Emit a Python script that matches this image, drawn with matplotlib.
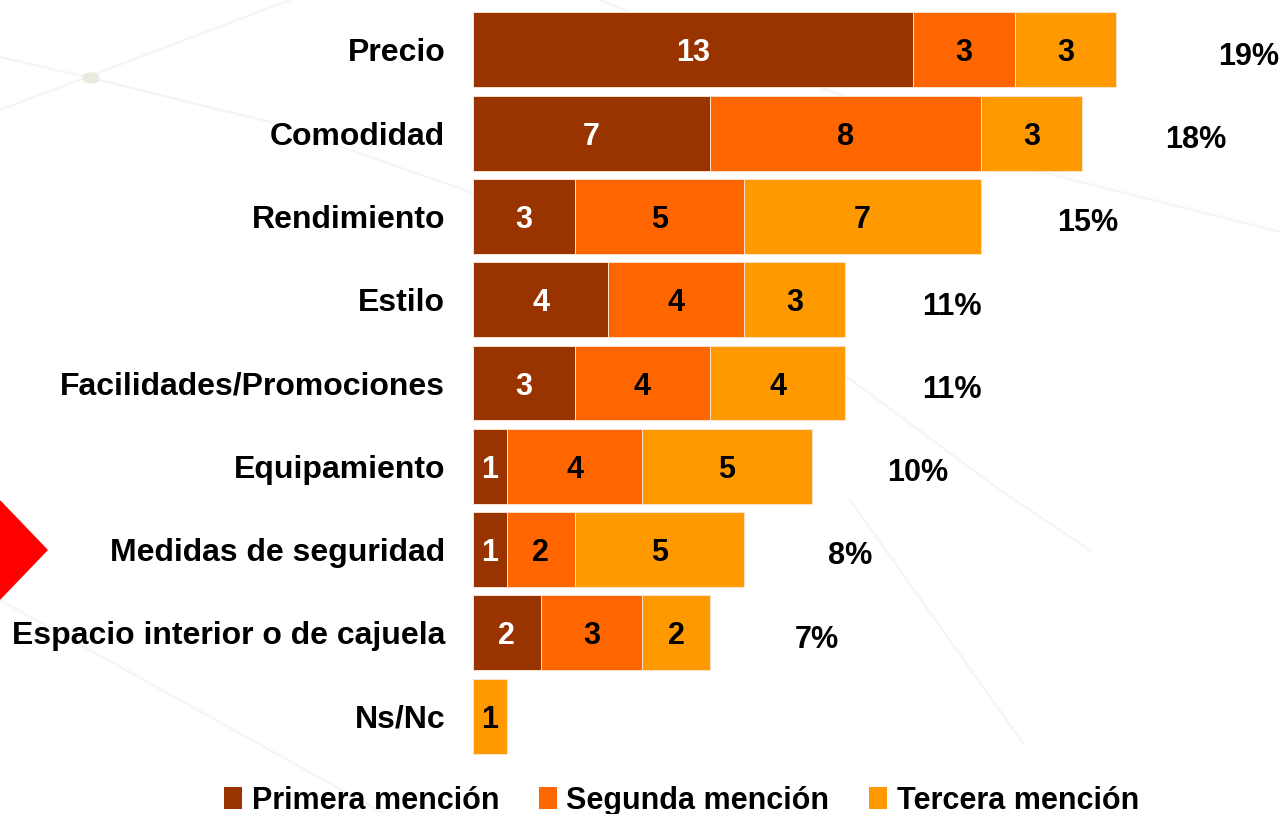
import matplotlib
matplotlib.use("Agg")
import matplotlib.pyplot as plt
import numpy as np
from matplotlib.patches import Patch, Polygon, Circle
from matplotlib.lines import Line2D

# === Data ===
categories = ["Precio", "Comodidad", "Rendimiento", "Estilo", "Facilidades/Promociones",
              "Equipamiento", "Medidas de seguridad", "Espacio interior o de cajuela", "Ns/Nc"]
primera = [13, 7, 3, 4, 3, 1, 1, 2, 0]
segunda = [3, 8, 5, 4, 4, 4, 2, 3, 0]
tercera = [3, 3, 7, 3, 4, 5, 5, 2, 1]
pct_labels = ["19%", "18%", "15%", "11%", "11%", "10%", "8%", "7%", ""]
series_names = ["Primera mención", "Segunda mención", "Tercera mención"]

# Styling
COLORS = ["#993300", "#FF6600", "#FF9900"]
TEXT_COLORS = ["white", "black", "black"]
FONT = ["Liberation Sans", "DejaVu Sans"]
PCT_OFFSET = 3.15
PCT_NUDGE = [0.75, 0.2, 0, 0, 0, 0, 0, 0, 0]

plt.rcParams["font.family"] = FONT

fig = plt.figure(figsize=(12.81, 8.14), dpi=100)

# --- background decoration (faint lines, dot, red triangle) ---
W, H = 1281, 814
def px(x, y):
    return x / W, 1 - y / H

bg_lines = [
    [(0, 110), (290, 0)],
    [(0, 57), (91, 78), (270, 122), (473, 193)],
    [(600, 0), (730, 52), (1033, 170), (1281, 232)],
    [(847, 377), (1000, 490), (1090, 550)],
    [(850, 500), (1023, 743)],
    [(0, 600), (383, 813)],
]
for pts in bg_lines:
    xs, ys = zip(*[px(*p) for p in pts])
    fig.add_artist(Line2D(xs, ys, color="#F5F5F5", lw=1.6, zorder=0))
fig.add_artist(Circle(px(91, 78), 8 / W, color="#E6EADF", zorder=0, transform=fig.transFigure))
fig.add_artist(Polygon([px(0, 501), px(47, 550), px(0, 599)], closed=True,
                       color="#FF0000", zorder=0, transform=fig.transFigure))

# --- bars ---
ax = fig.add_axes([473 / W, 44 / H, (W - 473) / W, 770 / H])
ax.patch.set_alpha(0)
y = np.arange(len(categories))
left = np.zeros(len(categories))
for vals, color, tcol, name in zip([primera, segunda, tercera], COLORS, TEXT_COLORS, series_names):
    vals = np.array(vals, dtype=float)
    bars = ax.barh(y, vals, left=left, height=0.9, color=color,
                   edgecolor="#FCE2CC", linewidth=0.7, label=name)
    texts = ax.bar_label(bars, labels=[str(int(v)) if v > 0 else "" for v in vals],
                         label_type="center", color=tcol, fontsize=22, fontweight="bold",
                         family=FONT)
    for t in texts:
        t.set_verticalalignment("center_baseline")
    left += vals

totals = left
for i, (t, lab) in enumerate(zip(totals, pct_labels)):
    if lab:
        ax.text(t + PCT_OFFSET + PCT_NUDGE[i], i + 0.04, lab, ha="center",
                va="center_baseline", fontsize=22, fontweight="bold", color="black")

ax.set_xlim(0, (W - 473) / 33.85)
ax.set_ylim(8 + 54 / 83.375, -50 / 83.375)
ax.set_yticks(y)
ax.set_yticklabels(categories, fontsize=23, fontweight="bold")
ax.tick_params(axis="y", length=0, pad=20)
ax.set_xticks([])
for s in ax.spines.values():
    s.set_visible(False)

handles = [Patch(facecolor=c, edgecolor="none") for c in COLORS]
fig.legend(handles, series_names, loc="lower center", ncol=3, frameon=False,
           bbox_to_anchor=(0.532, -0.036), handlelength=0.6, handleheight=0.75,
           handletextpad=0.3, columnspacing=1.3,
           prop={"family": FONT, "weight": "bold", "size": 22})

fig.savefig("out.png", dpi=100)
